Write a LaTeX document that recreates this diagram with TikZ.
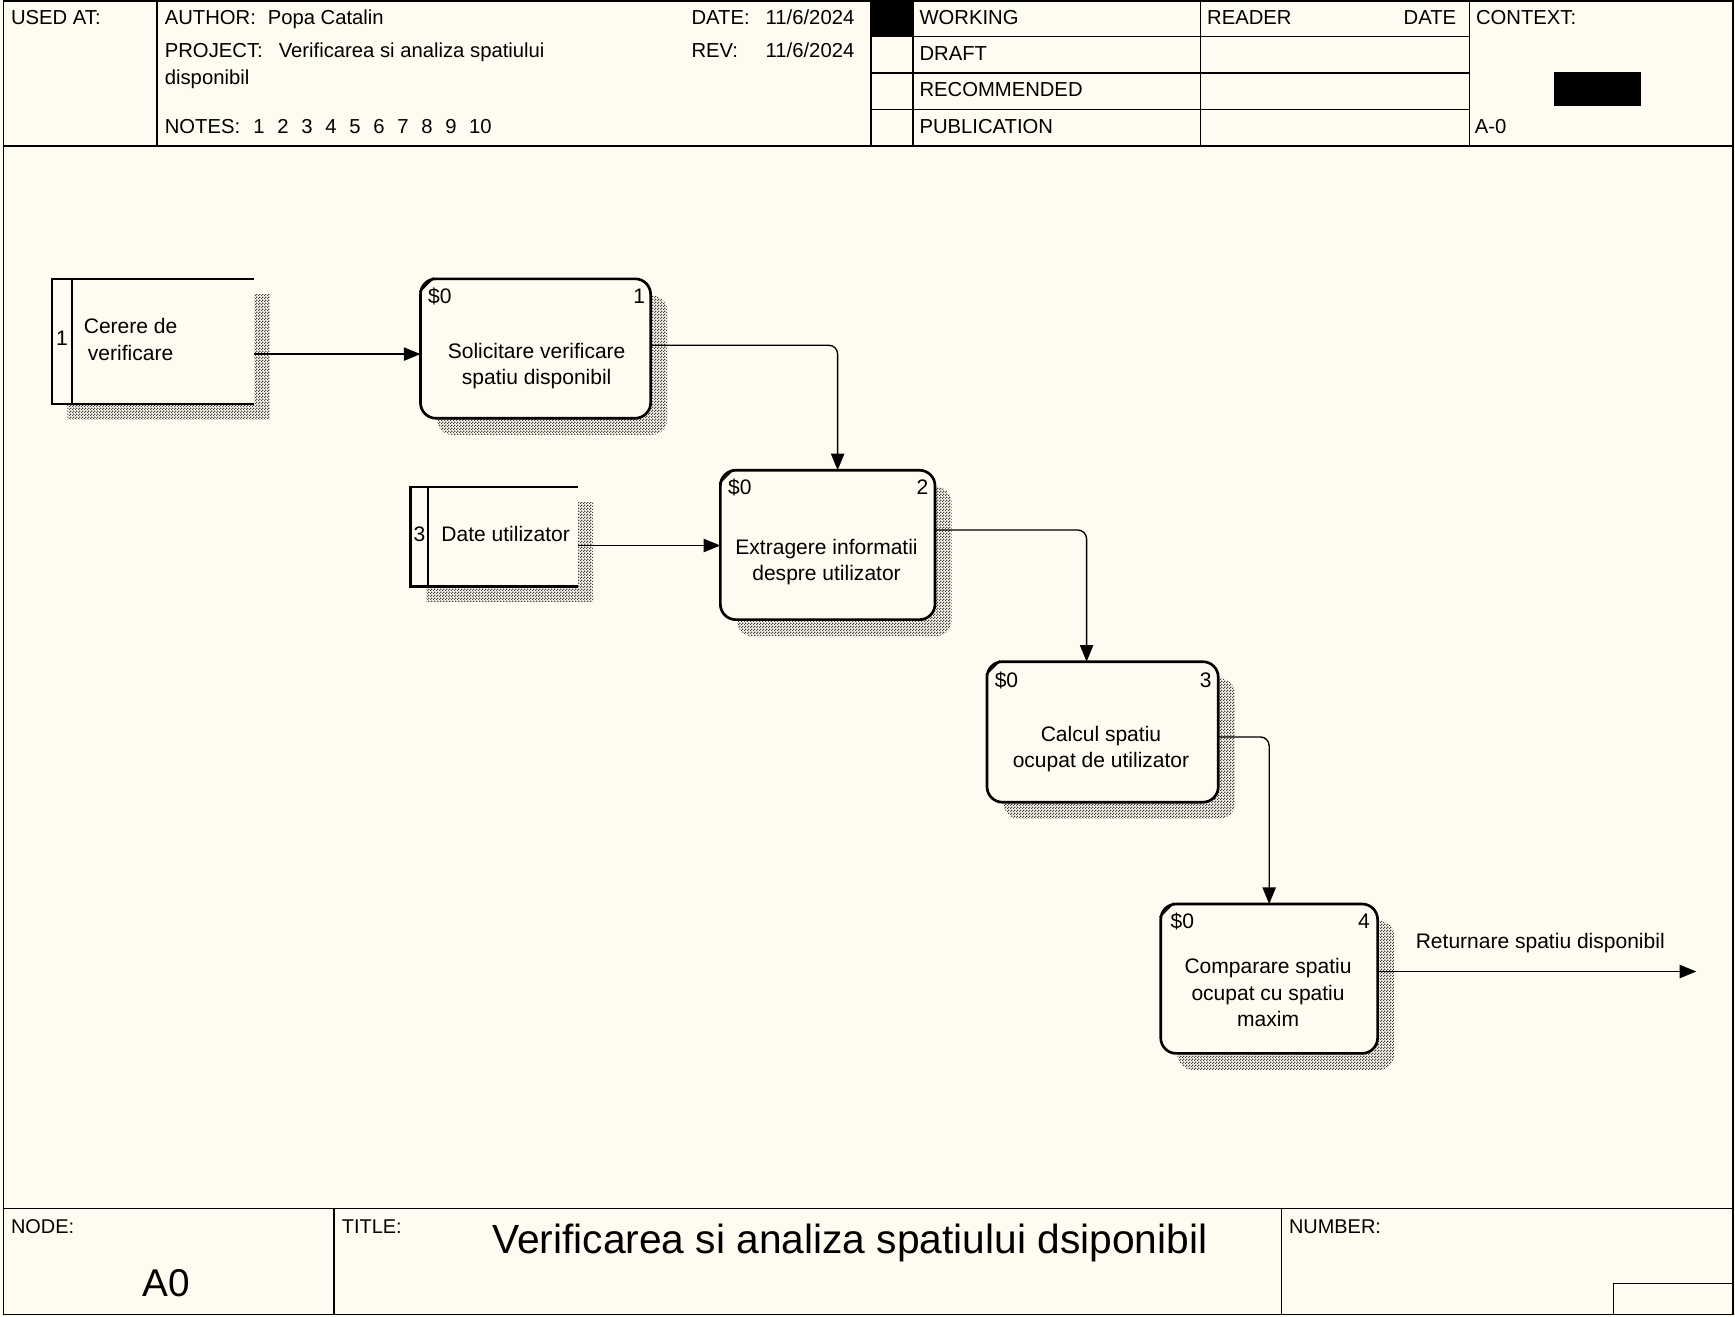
\documentclass[tikz,border=0pt]{standalone}
\usepackage{fontspec}
\setmainfont{Liberation Sans}
\usetikzlibrary{arrows.meta,patterns,shadows,calc}
\definecolor{bg}{RGB}{255,251,240}
\pgfdeclarepatternformonly{finecheck}{\pgfpointorigin}{\pgfpoint{2.4pt}{2.4pt}}{\pgfpoint{2.4pt}{2.4pt}}{%
  \pgfpathrectangle{\pgfpointorigin}{\pgfpoint{1.2pt}{1.2pt}}%
  \pgfpathrectangle{\pgfpoint{1.2pt}{1.2pt}}{\pgfpoint{1.2pt}{1.2pt}}%
  \pgfusepath{fill}}
\begin{document}
\begin{tikzpicture}[x=1pt,y=-1pt,
  every node/.style={inner sep=0pt, outer sep=0pt},
  hdr/.style={anchor=base west, font=\fontsize{18.3}{22}\selectfont},
  hdrr/.style={anchor=base east, font=\fontsize{18.3}{22}\selectfont},
  ftr/.style={anchor=base west, font=\fontsize{18}{22}\selectfont},
  txt/.style={align=center, font=\fontsize{19}{24}\selectfont},
  tag/.style={anchor=base west, font=\fontsize{19}{24}\selectfont},
  tagr/.style={anchor=base east, font=\fontsize{19}{24}\selectfont},
  frame/.style={line width=1.4pt},
  shadowfill/.style={opacity=1, pattern=finecheck, pattern color=black!75},
  proc/.style={draw, line width=2.4pt, rounded corners=14pt, fill=bg,
    drop shadow={shadow xshift=15pt, shadow yshift=-15pt, shadowfill}},
  store/.style={fill=bg,
    drop shadow={shadow xshift=14pt, shadow yshift=-14pt, shadowfill}},
  storeline/.style={line width=2pt},
  cornertick/.style={line width=1.3pt},
  flow/.style={line width=1.2pt, rounded corners=8pt, -{Triangle[length=15pt,width=12pt]}}
]
\useasboundingbox (0,0) rectangle (1568,1190);
\fill[bg] (0,0) rectangle (1568,1190);

% ---------- frame ----------
\draw[frame] (3,1) rectangle (1566,1188);
\draw[frame] (3,132) -- (1566,132);
\foreach \x in {142,787,825,1085,1328} \draw[frame] (\x,1) -- (\x,132);
\foreach \y in {33,66,99} \draw[frame] (787,\y) -- (1328,\y);
\fill (787,1) rectangle (825,33);
\fill (1404,65) rectangle (1483,96);
\draw[frame] (3,1092) -- (1566,1092);
\draw[frame] (302,1092) -- (302,1188);
\draw[frame] (1158,1092) -- (1158,1188);
\draw[frame] (1458,1188) -- (1458,1160) -- (1566,1160);

% ---------- header texts ----------
\node[hdr] (usedat) at (10,22) {USED AT:};
\node[hdr] (author) at (149,22) {AUTHOR:};
\node[hdr] (authorv) at (242,22) {Popa Catalin};
\node[hdr] (date) at (625,22) {DATE:};
\node[hdr] (datev) at (692,22) {11/6/2024};
\node[hdr] (project) at (149,52) {PROJECT:};
\node[hdr] (projectv) at (252,52) {Verificarea si analiza spatiului};
\node[hdr] (projectv2) at (149,76) {disponibil};
\node[hdr] (rev) at (625,52) {REV:};
\node[hdr] (revv) at (692,52) {11/6/2024};
\node[hdr] (notes) at (149,121) {NOTES:};
\foreach \i in {1,...,9} \node[hdr] (note\i) at ({229+21.7*(\i-1)},121) {\i};
\node[hdr] (note10) at (424,121) {10};
\node[hdr] (working) at (831,22) {WORKING};
\node[hdr] (draft) at (831,55) {DRAFT};
\node[hdr] (recommended) at (831,87) {RECOMMENDED};
\node[hdr] (publication) at (831,121) {PUBLICATION};
\node[hdr] (reader) at (1091,22) {READER};
\node[hdrr] (rdate) at (1316,22) {DATE};
\node[hdr] (context) at (1334,22) {CONTEXT:};
\node[hdr] (aminus0) at (1333,121) {A-0};

% ---------- footer texts ----------
\node[ftr] (nodelbl) at (10,1115) {NODE:};
\node[anchor=base, font=\fontsize{35}{40}\selectfont] (nodeval) at (150,1172) {A0};
\node[ftr] (titlelbl) at (309,1115) {TITLE:};
\node[anchor=base, font=\fontsize{36.8}{40}\selectfont] (titleval) at (768,1133) {Verificarea si analiza spatiului dsiponibil};
\node[ftr] (numberlbl) at (1165,1115) {NUMBER:};

% ---------- stores ----------
\node[store, minimum width=183pt, minimum height=113pt] (s1) at (138.5,308.5) {};
\draw[storeline] (s1.north east) -- (s1.north west) -- (s1.south west) -- (s1.south east);
\draw[storeline] ([xshift=18pt]s1.north west) -- ([xshift=18pt]s1.south west);
\node[txt] (s1n) at (56,306) {1};
\node[txt] (s1t) at (118,307) {Cerere de\\verificare};

\node[store, minimum width=151pt, minimum height=90pt] (s3) at (446.5,485) {};
\draw[storeline] (s3.north east) -- (s3.north west) -- (s3.south west) -- (s3.south east);
\draw[storeline] ([xshift=16pt]s3.north west) -- ([xshift=16pt]s3.south west);
\node[txt] (s3n) at (379,483) {3};
\node[txt] (s3t) at (457,483) {Date utilizator};

% ---------- processes ----------
\node[proc, minimum width=208pt, minimum height=126pt] (p1) at (484,315) {};
\node[proc, minimum width=194pt, minimum height=135pt] (p2) at (748,492.5) {};
\node[proc, minimum width=209pt, minimum height=127pt] (p3) at (996.5,661.5) {};
\node[proc, minimum width=196pt, minimum height=135pt] (p4) at (1147,884.5) {};
\foreach \p in {p1,p2,p3,p4}
  \draw[cornertick] ([xshift=-1pt,yshift=-12pt]\p.north west) -- ([xshift=12pt,yshift=1pt]\p.north west);

\node[tag] (p1s) at (387,274) {\$0};
\node[tagr] (p1n) at (583,274) {1};
\node[txt] (p1t) at (485,331) {Solicitare verificare\\spatiu disponibil};

\node[tag] (p2s) at (658,447) {\$0};
\node[tagr] (p2n) at (839,447) {2};
\node[txt] (p2t) at (747,508) {Extragere informatii\\despre utilizator};

\node[tag] (p3s) at (899,621) {\$0};
\node[tagr] (p3n) at (1095,621) {3};
\node[txt] (p3t) at (995,677) {Calcul spatiu\\ocupat de utilizator};

\node[tag] (p4s) at (1058,839) {\$0};
\node[tagr] (p4n) at (1238,839) {4};
\node[txt] (p4t) at (1146,897) {Comparare spatiu\\ocupat cu spatiu\\maxim};

% ---------- connectors ----------
\draw[flow] ([yshift=-11.5pt]s1.east) -- ([yshift=-11.5pt]s1.east -| p1.west);
\draw[flow] ([yshift=3pt]p1.east) -| ([xshift=9pt]p2.north);
\draw[flow] ([yshift=-8pt]s3.east) -- ([yshift=-8pt]s3.east -| p2.west);
\draw[flow] ([yshift=13.5pt]p2.east) -| ([xshift=-14.5pt]p3.north);
\draw[flow] ([yshift=-4.5pt]p3.east) -| (p4.north);
\coordinate (out) at (1533,878);
\draw[flow] ([yshift=6.5pt]p4.east) -- (out);
\node[txt] (ret) at (1392,852) {Returnare spatiu disponibil};
\end{tikzpicture}
\end{document}
